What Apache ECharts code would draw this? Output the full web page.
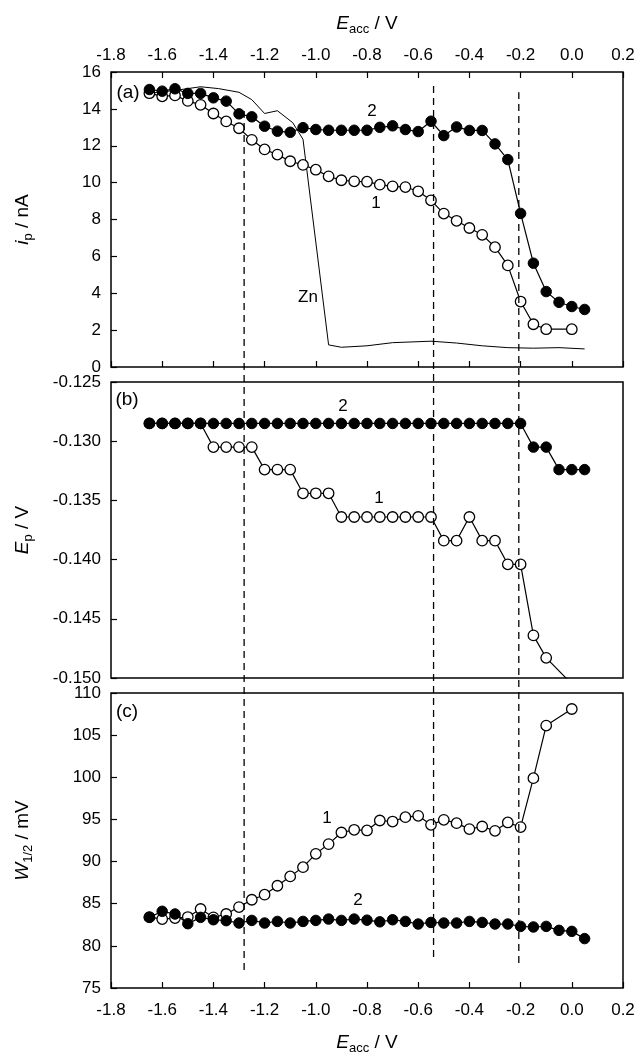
<!DOCTYPE html>
<html>
<head>
<meta charset="utf-8">
<script src="https://cdn.jsdelivr.net/npm/echarts@6/dist/echarts.min.js"></script>
<style>
html,body{margin:0;padding:0;background:#fff;}
#chart{width:639px;height:1060px;}
</style>
</head>
<body>
<div id="chart"></div>
<script>
// ---- data ----
const xTicks = [-1.8,-1.6,-1.4,-1.2,-1.0,-0.8,-0.6,-0.4,-0.2,0.0,0.2];
const eAcc = [-1.65,-1.60,-1.55,-1.50,-1.45,-1.40,-1.35,-1.30,-1.25,-1.20,-1.15,-1.10,-1.05,-1.00,-0.95,-0.90,-0.85,-0.80,-0.75,-0.70,-0.65,-0.60,-0.55,-0.50,-0.45,-0.40,-0.35,-0.30,-0.25,-0.20,-0.15,-0.10,-0.05,0.00,0.05];
// panel (a) peak current, nA
const ip1 = [14.85,14.68,14.73,14.43,14.22,13.75,13.32,12.95,12.32,11.8,11.52,11.16,10.96,10.7,10.34,10.13,10.07,10.05,9.89,9.8,9.76,9.53,9.04,8.32,7.93,7.54,7.17,6.5,5.51,3.55,2.32,2.05,null,2.05,null];
const ip2 = [15.05,14.96,15.09,14.84,14.84,14.6,14.42,13.73,13.57,13.06,12.79,12.73,12.98,12.88,12.84,12.84,12.84,12.84,13.0,13.08,12.88,12.77,13.33,12.55,13.02,12.83,12.83,12.1,11.25,8.33,5.63,4.09,3.51,3.28,3.12];
const znX = [-1.65,-1.55,-1.45,-1.38,-1.30,-1.25,-1.20,-1.15,-1.09,-1.05,-0.95,-0.90,-0.80,-0.70,-0.55,-0.45,-0.35,-0.25,-0.15,-0.05,0.05];
const znY = [14.85,15.0,15.2,15.1,14.9,14.5,13.75,13.9,13.25,12.35,1.2,1.07,1.15,1.32,1.4,1.3,1.15,1.05,1.02,1.05,0.98];
// panel (b) peak potential, V
const ep1 = [-0.1285,-0.1285,-0.1285,-0.1285,-0.1285,-0.1305,-0.1305,-0.1305,-0.1305,-0.1324,-0.1324,-0.1324,-0.1344,-0.1344,-0.1344,-0.1364,-0.1364,-0.1364,-0.1364,-0.1364,-0.1364,-0.1364,-0.1364,-0.1384,-0.1384,-0.1364,-0.1384,-0.1384,-0.1404,-0.1404,-0.1464,-0.1483,null,-0.1505,null];
const ep2 = [-0.1285,-0.1285,-0.1285,-0.1285,-0.1285,-0.1285,-0.1285,-0.1285,-0.1285,-0.1285,-0.1285,-0.1285,-0.1285,-0.1285,-0.1285,-0.1285,-0.1285,-0.1285,-0.1285,-0.1285,-0.1285,-0.1285,-0.1285,-0.1285,-0.1285,-0.1285,-0.1285,-0.1285,-0.1285,-0.1285,-0.1305,-0.1305,-0.1324,-0.1324,-0.1324];
// panel (c) half-peak width, mV
const w1 = [83.4,83.18,83.3,83.42,84.37,83.38,83.78,84.6,85.47,86.07,87.13,88.24,89.34,90.92,92.07,93.45,93.77,93.69,94.87,94.75,95.27,95.43,94.36,94.95,94.56,93.85,94.16,93.65,94.64,94.09,99.9,106.13,null,108.1,null];
const w2 = [83.38,84.1,83.78,82.63,83.38,83.1,82.99,82.71,83.02,82.71,82.9,82.71,82.9,83.02,83.18,83.02,83.18,83.05,82.85,83.1,82.9,82.59,82.78,82.71,82.71,82.9,82.78,82.59,82.59,82.31,82.24,82.31,81.84,81.72,80.86];
// vertical dashed guide lines (x in V, extent as fraction of full plot height)
const dashX = [-1.28,-0.54,-0.207];
const dashTop = [0.961,0.986,0.978];
const dashBottom = [0.0197,0.0338,0.0273];

// ---- chart ----
const FONT = 'Liberation Sans';
const chart = echarts.init(document.getElementById('chart'), null, {renderer:'canvas'});
const pairs = (xs, ys) => xs.map((x,i)=>[x, ys[i]]);
const rich = {
  it:{fontFamily:FONT,fontSize:19,fontStyle:'italic',color:'#000',lineHeight:24},
  n:{fontFamily:FONT,fontSize:19,color:'#000',lineHeight:24},
  s:{fontFamily:FONT,fontSize:13,color:'#000',lineHeight:12,verticalAlign:'bottom'}
};
const gridBox = {show:true,borderColor:'#000',borderWidth:1.5,backgroundColor:'transparent',left:111,right:16};
const labelStyle = {fontFamily:FONT,fontSize:17,color:'#000'};
const fmt1 = v => v.toFixed(1);
const tickStyle = {show:true,inside:true,length:6,lineStyle:{color:'#000',width:1.2}};
function xAx(grid, opts){
  return Object.assign({
    type:'value',gridIndex:grid,min:-1.8,max:0.2,interval:0.2,
    axisLine:{show:false,onZero:false},splitLine:{show:false},
    axisTick:tickStyle,
    axisLabel:Object.assign({show:true,formatter:fmt1},labelStyle)
  }, opts);
}
function yAx(grid, min, max, interval, name, gap, formatter){
  return {
    type:'value',gridIndex:grid,min:min,max:max,interval:interval,position:'left',
    name:name,nameLocation:'middle',nameRotate:90,nameGap:gap,
    nameTextStyle:{rich:rich},
    axisLine:{show:false,onZero:false},splitLine:{show:false},
    axisTick:tickStyle,
    axisLabel:Object.assign({margin:10,formatter:formatter},labelStyle)
  };
}
function lineSeries(xi, yi, xs, ys, open){
  return {
    type:'line',xAxisIndex:xi,yAxisIndex:yi,data:pairs(xs,ys),connectNulls:true,
    symbol:'circle',symbolSize:10.5,showAllSymbol:true,clip:true,
    lineStyle:{color:'#000',width:1.2},
    itemStyle: open ? {color:'#fff',borderColor:'#000',borderWidth:1.3} : {color:'#000',borderColor:'#000',borderWidth:1},
    emphasis:{disabled:true},z:open?3:4
  };
}
const dashSeries = dashX.map((x,i)=>({
  type:'line',xAxisIndex:4,yAxisIndex:3,data:[[x,dashBottom[i]],[x,dashTop[i]]],
  symbol:'none',lineStyle:{color:'#000',width:1.3,type:[7,5]},z:5,emphasis:{disabled:true},silent:true
}));
function txt(x, y, t, size){
  return {type:'text',x:x,y:y,style:{text:t,font:(size||17)+'px '+FONT,fill:'#000',textAlign:'center',textVerticalAlign:'middle'}};
}

const option = {
  animation:false,
  backgroundColor:'#fff',
  grid:[
    Object.assign({top:72,height:295},gridBox),
    Object.assign({top:382,height:296},gridBox),
    Object.assign({top:693,height:295},gridBox),
    {left:111,right:16,top:72,height:916,show:false}
  ],
  xAxis:[
    xAx(0,{position:'top',name:'{it|E}{s|acc}{n| / V}',nameLocation:'middle',nameGap:36,nameTextStyle:{rich:rich},axisLabel:Object.assign({formatter:fmt1,margin:8},labelStyle)}),
    xAx(0,{position:'bottom',axisLabel:{show:false}}),
    xAx(1,{position:'bottom',axisTick:{show:false},axisLabel:{show:false}}),
    xAx(2,{position:'bottom',name:'{it|E}{s|acc}{n| / V}',nameLocation:'middle',nameGap:43,nameTextStyle:{rich:rich},axisLabel:Object.assign({formatter:fmt1,margin:14},labelStyle)}),
    {type:'value',gridIndex:3,min:-1.8,max:0.2,show:false}
  ],
  yAxis:[
    yAx(0,0,16,2,'{it|i}{s|p}{n| / nA}',76,v=>String(v)),
    yAx(1,-0.150,-0.125,0.005,'{it|E}{s|p}{n| / V}',76,v=>v.toFixed(3)),
    yAx(2,75,110,5,'{it|W}{s|1/2}{n| / mV}',76,v=>String(v)),
    {type:'value',gridIndex:3,min:0,max:1,show:false}
  ],
  series:[
    {type:'line',xAxisIndex:0,yAxisIndex:0,data:pairs(znX,znY),symbol:'none',lineStyle:{color:'#000',width:1},z:2,emphasis:{disabled:true}},
    lineSeries(0,0,eAcc,ip1,true),
    lineSeries(0,0,eAcc,ip2,false),
    lineSeries(2,1,eAcc,ep1,true),
    lineSeries(2,1,eAcc,ep2,false),
    lineSeries(3,2,eAcc,w1,true),
    lineSeries(3,2,eAcc,w2,false)
  ].concat(dashSeries),
  graphic:[
    txt(128,93,'(a)',19), txt(127,400,'(b)',19), txt(127,712,'(c)',19),
    txt(372,111,'2'), txt(376,203,'1'), txt(308,297,'Zn'),
    txt(343,406,'2'), txt(379,498,'1'),
    txt(327,818,'1'), txt(358,900,'2')
  ]
};
chart.setOption(option);
</script>
</body>
</html>
